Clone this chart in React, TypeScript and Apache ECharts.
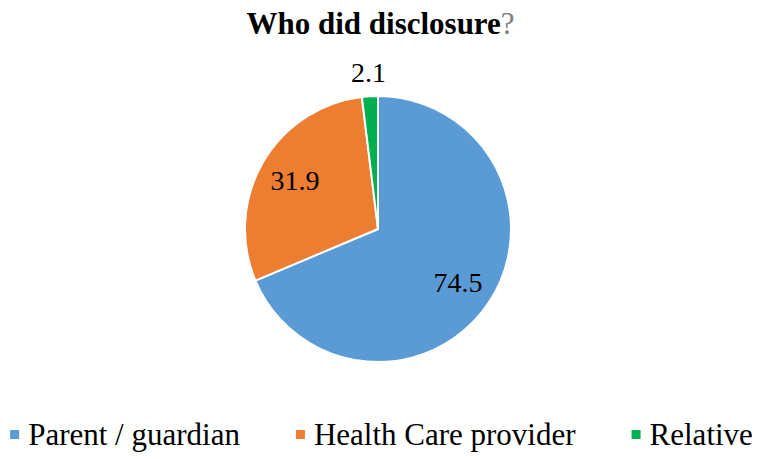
import React, { useEffect, useRef } from "react";
import * as echarts from "echarts";

const categories = ["Parent / guardian", "Health Care provider", "Relative"];
const values = [74.5, 31.9, 2.1];
const colors = ["#5B9BD5", "#ED7D31", "#00B050"];
const titleMain = "Who did disclosure";
const titleMark = "?";

const FONT = "'Times New Roman', 'Liberation Serif', serif";

export default function App() {
  const ref = useRef<HTMLDivElement>(null);
  useEffect(() => {
    if (!ref.current) return;
    const chart = echarts.init(ref.current, undefined, { renderer: "svg" });
    const baseData = categories.map((name, i) => ({
      name,
      value: values[i],
      itemStyle: { color: colors[i] },
    }));
    const labelRing = (show: (i: number) => boolean) =>
      categories.map((name, i) => ({
        name,
        value: values[i],
        itemStyle: { color: "transparent", borderWidth: 0 },
        label: { show: show(i) },
      }));
    const labelStyle = {
      position: "inside",
      formatter: "{c}",
      color: "#000",
      fontFamily: FONT,
      fontSize: 28,
    };
    chart.setOption({
      animation: false,
      backgroundColor: "#fff",
      textStyle: { fontFamily: FONT },
      title: {
        text: `{b|${titleMain}}{q|${titleMark}}`,
        left: "center",
        top: 3,
        textStyle: {
          fontFamily: FONT,
          rich: {
            b: { fontFamily: FONT, fontWeight: "bold", fontSize: 31, color: "#000" },
            q: { fontFamily: FONT, fontWeight: "normal", fontSize: 31, color: "#808080" },
          },
        },
      },
      legend: {
        data: categories,
        bottom: 4,
        left: "center",
        icon: "rect",
        itemWidth: 11,
        itemHeight: 11,
        itemGap: 54,
        selectedMode: false,
        textStyle: {
          fontFamily: FONT,
          fontSize: 31,
          color: "#000",
          padding: [0, 0, 0, 3],
        },
      },
      series: [
        {
          type: "pie",
          center: [378, 229],
          radius: 133,
          startAngle: 90,
          clockwise: true,
          silent: true,
          label: { show: false },
          labelLine: { show: false },
          itemStyle: { borderColor: "#fff", borderWidth: 2 },
          emphasis: { disabled: true },
          data: baseData,
        },
        {
          type: "pie",
          center: [378, 229],
          radius: [53, 133],
          startAngle: 90,
          clockwise: true,
          silent: true,
          legendHoverLink: false,
          label: labelStyle,
          labelLine: { show: false },
          emphasis: { disabled: true },
          data: labelRing((i) => i < 2),
        },
        {
          type: "pie",
          center: [378, 229],
          radius: [144, 164],
          startAngle: 90,
          clockwise: true,
          silent: true,
          legendHoverLink: false,
          label: labelStyle,
          labelLine: { show: false },
          emphasis: { disabled: true },
          data: labelRing((i) => i === 2),
        },
      ],
    });
    return () => chart.dispose();
  }, []);
  return (
    <div
      ref={ref}
      style={{ position: "absolute", left: 0, top: 0, width: 761, height: 459 }}
    />
  );
}
